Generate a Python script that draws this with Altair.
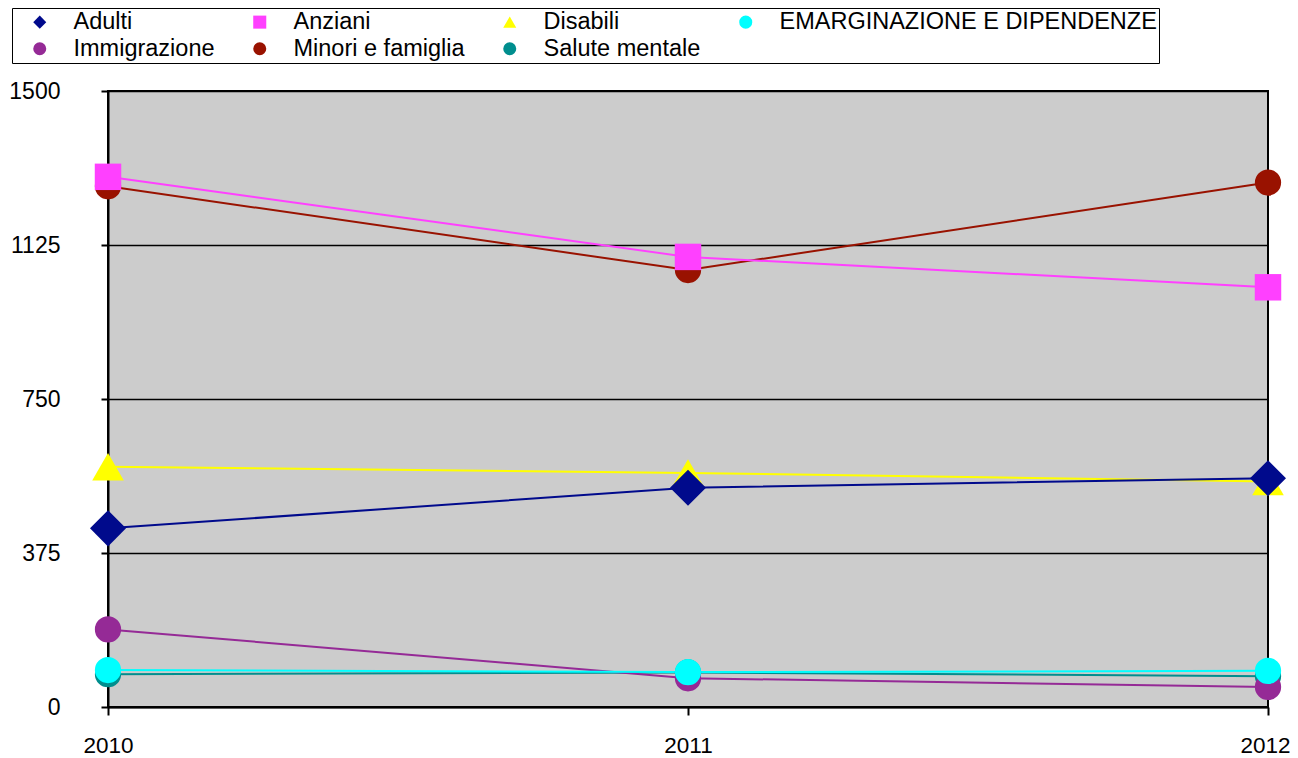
import altair as alt
import pandas as pd

years = ["2010", "2011", "2012"]
series = [
    "Adulti",
    "Anziani",
    "Disabili",
    "EMARGINAZIONE E DIPENDENZE",
    "Immigrazione",
    "Minori e famiglia",
    "Salute mentale",
]
adulti = [435, 534, 557]
anziani = [1291, 1096, 1022]
disabili = [585, 570, 549]
emarginazione = [90, 85, 88]
immigrazione = [189, 70, 49]
minori = [1268, 1064, 1277]
salute = [80, 84, 75]

colors = ["#000A8C", "#FF40FF", "#FFFF00", "#00FFFF", "#952A96", "#991200", "#008E8E"]
shapes = ["diamond", "square", "triangle-up", "circle", "circle", "circle", "circle"]
sizes = [1300, 700, 1000, 690, 690, 690, 690]
y_ticks = [0, 375, 750, 1125, 1500]

values = {
    "Adulti": adulti,
    "Anziani": anziani,
    "Disabili": disabili,
    "EMARGINAZIONE E DIPENDENZE": emarginazione,
    "Immigrazione": immigrazione,
    "Minori e famiglia": minori,
    "Salute mentale": salute,
}
draw_order = ["Salute mentale", "Immigrazione", "Minori e famiglia", "Disabili",
              "Adulti", "Anziani", "EMARGINAZIONE E DIPENDENZE"]

rows = []
for order, s in enumerate(draw_order):
    for y, v in zip(years, values[s]):
        rows.append({"serie": s, "anno": y, "valore": v, "ord": order,
                     "sz": sizes[series.index(s)]})
df = pd.DataFrame(rows)

font = "Liberation Sans"

x = alt.X("anno:O", scale=alt.Scale(type="point", padding=0), title=None,
          axis=alt.Axis(labelAngle=0, labelFontSize=22.5, labelFont=font, labelColor="black",
                        labelOffset={"expr": "datum.value == '2012' ? -3 : 0"},
                        tickColor="black", tickSize=8, tickWidth=2, labelPadding=19,
                        domainColor="black", domainWidth=2, grid=False))
y = alt.Y("valore:Q", scale=alt.Scale(domain=[0, 1500], nice=False), title=None,
          axis=alt.Axis(values=y_ticks, format="d", labelFontSize=23, labelFont=font,
                        labelColor="black",
                        tickColor="black", tickSize=7, tickWidth=2, labelPadding=41,
                        domainColor="black", domainWidth=2, grid=True,
                        gridColor="black", gridWidth=1.6, gridOpacity=1))
color = alt.Color("serie:N", scale=alt.Scale(domain=series, range=colors), title=None,
                  legend=alt.Legend(orient="none", legendX=-96, legendY=-83, direction="horizontal",
                                    columns=4, columnPadding=19, rowPadding=2,
                                    labelFontSize=23.5, labelFont=font, labelColor="black",
                                    labelLimit=600,
                                    symbolSize=170, labelOffset=22, symbolOffset=14,
                                    padding=2, strokeColor="black", fillColor="white",
                                    symbolStrokeWidth=0))
shape = alt.Shape("serie:N", scale=alt.Scale(domain=series, range=shapes), title=None)

lines = alt.Chart(df).mark_line(strokeWidth=2).encode(
    x=x, y=y, color=color, detail="serie:N", order=alt.Order("anno:O"))
points = alt.Chart(df).mark_point(filled=True, opacity=1).encode(
    x=x, y=y, color=color, shape=shape,
    size=alt.Size("sz:Q", scale=None, legend=None),
    order=alt.Order("ord:Q"))

chart = alt.layer(lines, points).properties(
    width=1160, height=616,
    autosize=alt.AutoSizeParams(type="none"),
    padding={"left": 100, "top": 83, "right": 22, "bottom": 51},
).configure_view(
    fill="#CCCCCC", stroke="black", strokeWidth=2
)

chart.save("out.html", embed_options={"renderer": "svg", "actions": False})
